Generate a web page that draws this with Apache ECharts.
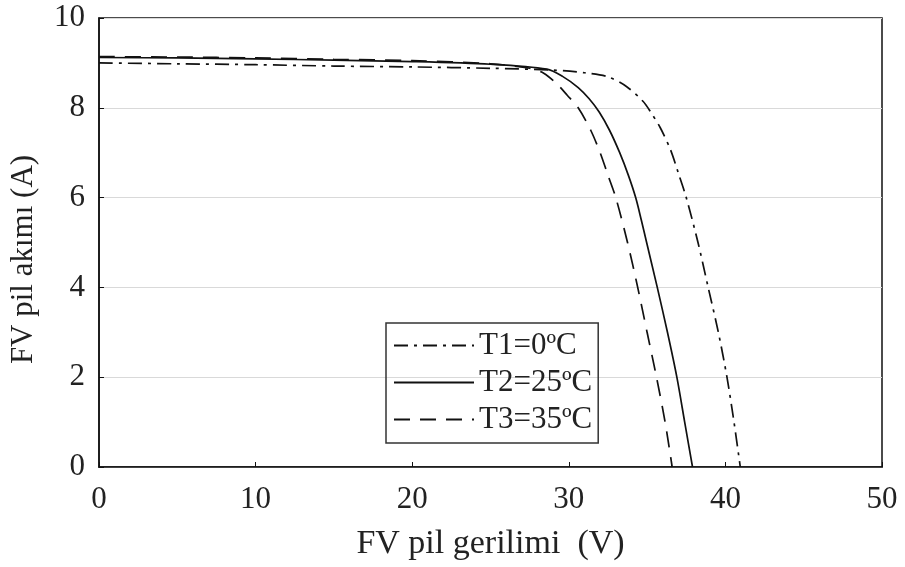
<!DOCTYPE html>
<html>
<head>
<meta charset="utf-8">
<title>FV pil</title>
<script src="https://cdn.jsdelivr.net/npm/echarts@6/dist/echarts.min.js"></script>
<style>
  html, body { margin: 0; padding: 0; background: #fff; }
  #main { width: 905px; height: 567px; }
</style>
</head>
<body>
<div id="main"></div>
<script>
var xTicks = [0, 10, 20, 30, 40, 50];
var yTicks = [0, 2, 4, 6, 8, 10];
var seriesNames = ['T1=0ºC', 'T2=25ºC', 'T3=35ºC'];

// [gerilim V, akim A]
var t1 = [[0, 9.00], [5, 8.98], [10, 8.96], [15, 8.93], [20, 8.91], [25, 8.88], [29, 8.84],
  [31, 8.78], [32.5, 8.69], [33.7, 8.47], [34.75, 8.14], [35.2, 7.92], [35.85, 7.55], [36.5, 7.06],
  [37.0, 6.54], [37.5, 6.0], [38.25, 5.0], [38.9, 4.0], [39.55, 3.0], [40.1, 2.0], [40.55, 1.0], [40.95, 0]];
var t2 = [[0, 9.12], [5, 9.11], [10, 9.09], [15, 9.06], [20, 9.03], [25, 8.97], [28.6, 8.86],
  [29.6, 8.70], [30.6, 8.45], [31.3, 8.2], [31.95, 7.9], [32.6, 7.5], [33.25, 7.0], [33.8, 6.5],
  [34.27, 6.0], [34.63, 5.5], [34.97, 5.0], [35.65, 4.0], [36.3, 3.0], [36.9, 2.0], [37.4, 1.0], [37.9, 0]];
var t3 = [[0, 9.14], [5, 9.13], [10, 9.11], [15, 9.08], [20, 9.05], [25, 8.98], [27.5, 8.88],
  [28.4, 8.77], [29.3, 8.51], [29.9, 8.28], [30.6, 8.0], [31.4, 7.5], [32.0, 7.0], [32.5, 6.5],
  [33.0, 6.0], [33.75, 5.0], [34.4, 4.0], [35.0, 3.0], [35.6, 2.0], [36.15, 1.0], [36.6, 0]];

var font = 'Liberation Serif';
var chart = echarts.init(document.getElementById('main'));

function lineSeries(name, data, dash) {
  return {
    name: name,
    type: 'line',
    data: data,
    symbol: 'none',
    smooth: 0.3,
    lineStyle: { color: '#111', width: 1.7, type: dash },
    itemStyle: { color: '#111' }
  };
}

var option = {
  animation: false,
  grid: {
    left: 98, right: 23, top: 18, bottom: 100,
    show: true, borderColor: '#111', borderWidth: 1.5
  },
  legend: {
    orient: 'vertical',
    left: 386, top: 323,
    padding: [7, 6, 8, 7],
    itemGap: 6,
    itemWidth: 80,
    itemHeight: 14,
    borderColor: '#333',
    borderWidth: 1.5,
    itemStyle: { opacity: 0 },
    textStyle: { fontFamily: font, fontSize: 31, color: '#222' },
    data: seriesNames
  },
  xAxis: {
    type: 'value',
    min: xTicks[0], max: xTicks[xTicks.length - 1], interval: 10,
    name: 'FV pil gerilimi  (V)',
    nameLocation: 'middle',
    nameGap: 60,
    nameTextStyle: { fontFamily: font, fontSize: 34, color: '#222' },
    axisLine: { lineStyle: { color: '#111', width: 1.5 } },
    axisTick: { inside: true, length: 5, lineStyle: { color: '#111' } },
    axisLabel: { fontFamily: font, fontSize: 31, color: '#222', margin: 17 },
    splitLine: { show: false }
  },
  yAxis: {
    type: 'value',
    min: yTicks[0], max: yTicks[yTicks.length - 1], interval: 2,
    name: 'FV pil akımı (A)',
    nameLocation: 'middle',
    nameGap: 60,
    nameTextStyle: { fontFamily: font, fontSize: 31, color: '#222', padding: [0, 34, 0, 0] },
    axisLine: { show: true, lineStyle: { color: '#111', width: 1.5 } },
    axisTick: { show: true, inside: true, length: 5, lineStyle: { color: '#111' } },
    axisLabel: { fontFamily: font, fontSize: 31, color: '#222', margin: 14 },
    splitLine: { show: true, lineStyle: { color: '#d9d9d9', width: 1.2 } }
  },
  series: [
    lineSeries(seriesNames[0], t1, [14, 6, 3, 6]),
    lineSeries(seriesNames[1], t2, 'solid'),
    lineSeries(seriesNames[2], t3, [16, 10])
  ]
};
chart.setOption(option);
</script>
</body>
</html>
